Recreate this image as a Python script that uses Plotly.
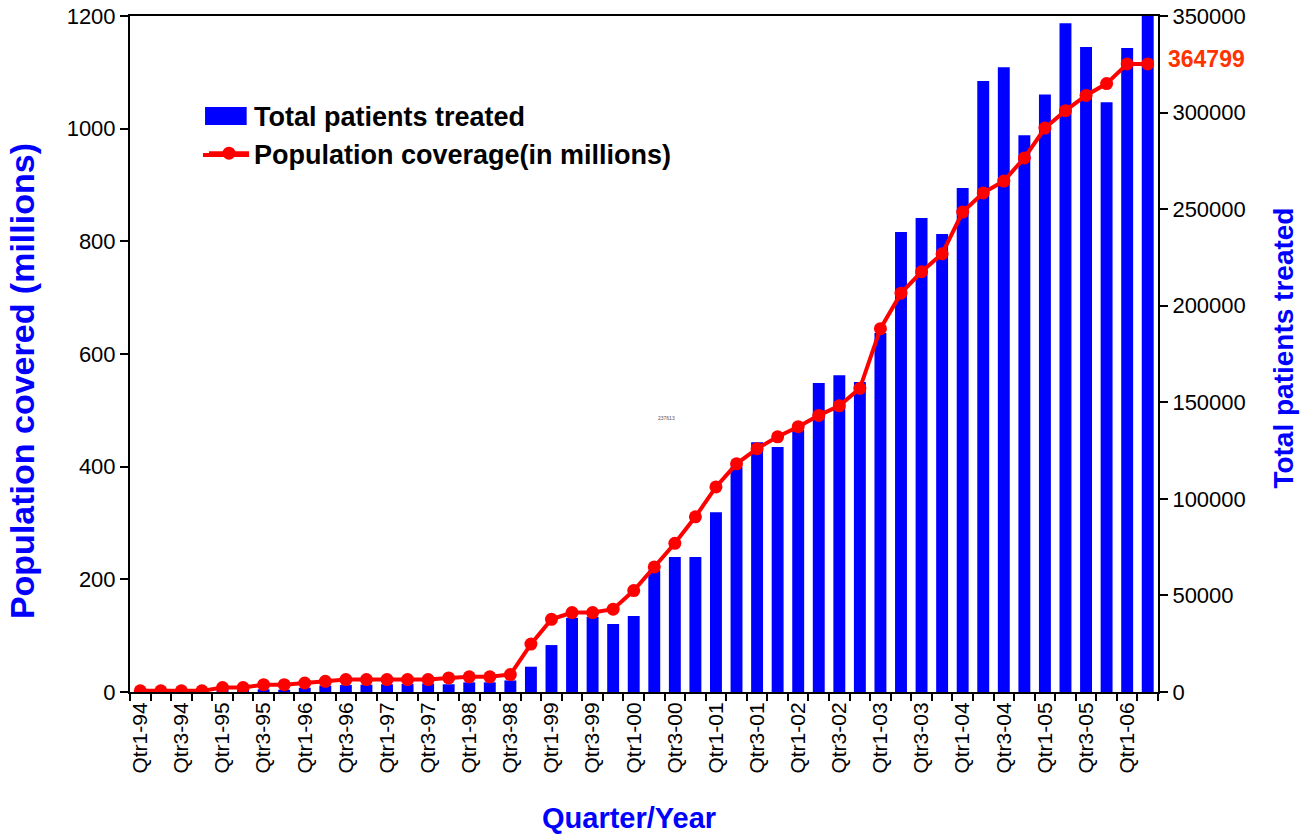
import plotly.graph_objects as go

quarters = [
    "Qtr1-94", "Qtr2-94", "Qtr3-94", "Qtr4-94",
    "Qtr1-95", "Qtr2-95", "Qtr3-95", "Qtr4-95",
    "Qtr1-96", "Qtr2-96", "Qtr3-96", "Qtr4-96",
    "Qtr1-97", "Qtr2-97", "Qtr3-97", "Qtr4-97",
    "Qtr1-98", "Qtr2-98", "Qtr3-98", "Qtr4-98",
    "Qtr1-99", "Qtr2-99", "Qtr3-99", "Qtr4-99",
    "Qtr1-00", "Qtr2-00", "Qtr3-00", "Qtr4-00",
    "Qtr1-01", "Qtr2-01", "Qtr3-01", "Qtr4-01",
    "Qtr1-02", "Qtr2-02", "Qtr3-02", "Qtr4-02",
    "Qtr1-03", "Qtr2-03", "Qtr3-03", "Qtr4-03",
    "Qtr1-04", "Qtr2-04", "Qtr3-04", "Qtr4-04",
    "Qtr1-05", "Qtr2-05", "Qtr3-05", "Qtr4-05",
    "Qtr1-06", "Qtr2-06",
]

patients_treated = [
    100, 200, 300, 400, 600, 800, 1400, 1200, 2200, 3300,
    3600, 3800, 4000, 4200, 4400, 4000, 5000, 5000, 6000, 13100,
    24300, 38400, 39000, 35200, 39300, 63100, 69850, 69850, 93100, 116600,
    129350, 126900, 135600, 160000, 164000, 160550, 185900, 238200, 245400, 237100,
    260900, 316300, 323500, 288200, 309400, 346300, 333900, 305400, 333400, 364799,
]

population_millions = [
    2, 2, 2, 2, 8, 8, 13, 13, 16, 19,
    22, 22, 22, 22, 22, 25, 27, 27, 31, 85,
    129, 141, 141, 147, 180, 222, 264, 311, 364, 405,
    432, 453, 471, 491, 508, 539, 645, 708, 746, 778,
    852, 886, 907, 948, 1001, 1032, 1059, 1080, 1115, 1115,
]

last_label = "364799"
small_note = "237613"
x_title = "Quarter/Year"
left_title = "Population covered (millions)"
right_title = "Total patients treated"

idx = list(range(len(quarters)))
label_idx = idx[::2]
label_text = [quarters[i] for i in label_idx]

FONT = "Arial, Liberation Sans, sans-serif"
BLUE = "#0000FF"

fig = go.Figure()
fig.add_trace(go.Bar(
    x=idx, y=patients_treated, name="Total patients treated",
    marker=dict(color=BLUE, line=dict(width=0)),
    yaxis="y",
))
fig.add_trace(go.Scatter(
    x=idx, y=population_millions, name="Population coverage(in millions)",
    mode="lines+markers",
    line=dict(color="#FF0000", width=4),
    marker=dict(color="#FF0000", size=13),
    yaxis="y2",
))

fig.update_layout(
    width=1307, height=834,
    margin=dict(l=130, r=149, t=16, b=142),
    paper_bgcolor="white", plot_bgcolor="white",
    font=dict(family=FONT, color="black"),
    bargap=0.42,
    showlegend=True,
    legend=dict(
        x=0.072, y=0.889, xanchor="left", yanchor="top",
        font=dict(size=27, family=FONT, color="black", weight="bold"),
        bgcolor="rgba(0,0,0,0)", tracegroupgap=0, itemwidth=40,
    ),
    xaxis=dict(
        automargin=False,
        range=[-0.5, len(quarters) - 0.5],
        tickmode="array", tickvals=label_idx, ticktext=label_text,
        tickangle=-90, ticks="", tickfont=dict(size=21, family=FONT),
        showline=True, linecolor="black", linewidth=2, mirror=True,
        showgrid=False, zeroline=False,
        minor=dict(tickmode="linear", tick0=-0.5, dtick=1, ticks="outside",
                   ticklen=7, tickwidth=1.5, tickcolor="black", showgrid=False),
    ),
    yaxis=dict(
        automargin=False, ticklabeloverflow="allow",
        side="right", range=[0, 350000], dtick=50000, tickformat="d",
        ticks="outside", ticklen=8, tickwidth=1.5, tickcolor="black",
        tickfont=dict(size=22, family=FONT),
        showline=True, linecolor="black", linewidth=2,
        showgrid=False, zeroline=False,
    ),
    yaxis2=dict(
        automargin=False, ticklabeloverflow="allow",
        overlaying="y", side="left", range=[0, 1200], dtick=200,
        ticks="outside", ticklen=8, tickwidth=1.5, tickcolor="black",
        tickfont=dict(size=22, family=FONT),
        showline=True, linecolor="black", linewidth=2,
        showgrid=False, zeroline=False,
    ),
    shapes=[
        dict(type="rect", xref="paper", yref="paper",
             x0=0.073, x1=0.1135, y0=0.8388, y1=0.8654,
             fillcolor=BLUE, line=dict(width=0), layer="above"),
        dict(type="line", xref="paper", yref="paper",
             x0=0.071, x1=0.1158, y0=0.7944, y1=0.7944,
             line=dict(color="#FF0000", width=4), layer="above"),
    ],
)

# axis titles
fig.add_annotation(
    x=0.4854, y=-0.1864, xref="paper", yref="paper",
    text="<b>" + x_title + "</b>", showarrow=False,
    xanchor="center", yanchor="middle",
    font=dict(size=29, color=BLUE, family=FONT),
)
fig.add_annotation(
    x=-0.105, y=0.46, xref="paper", yref="paper",
    text="<b>" + left_title + "</b>", showarrow=False, textangle=-90,
    xanchor="center", yanchor="middle",
    font=dict(size=34, color=BLUE, family=FONT),
)
fig.add_annotation(
    x=1.1226, y=0.508, xref="paper", yref="paper",
    text="<b>" + right_title + "</b>", showarrow=False, textangle=-90,
    xanchor="center", yanchor="middle",
    font=dict(size=28, color=BLUE, family=FONT),
)

fig.add_annotation(
    x=len(quarters) - 1, y=population_millions[-1], xref="x", yref="y2",
    text="<b>" + last_label + "</b>", showarrow=False,
    xshift=18, yshift=5, xanchor="left", yanchor="middle",
    font=dict(size=23, color="#FF3300", family=FONT),
)
fig.add_annotation(
    x=25.6, y=486, xref="x", yref="y2", text=small_note, showarrow=False,
    font=dict(size=5, color="#555555", family=FONT),
)

fig.write_html(
    "out.html",
    config={"displayModeBar": False},
    post_script="document.body.style.margin='0px';",
)
